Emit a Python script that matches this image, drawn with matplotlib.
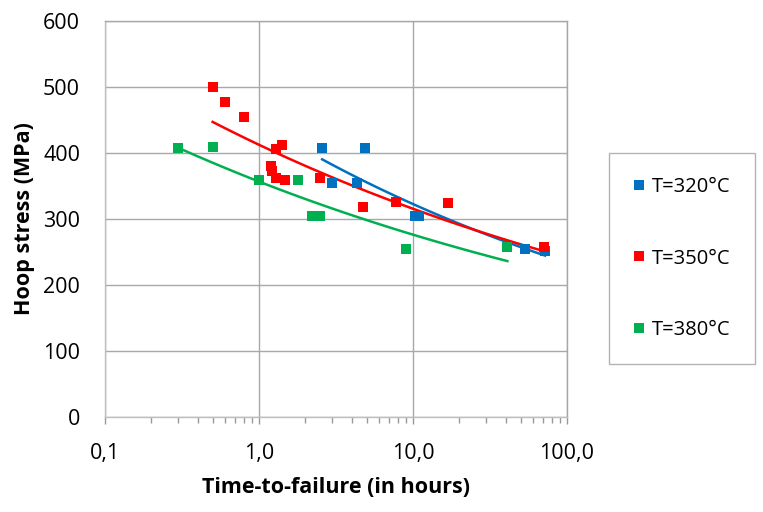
import numpy as np
import matplotlib
matplotlib.use("Agg")
import matplotlib.pyplot as plt
from matplotlib.ticker import FixedLocator, FuncFormatter, LogLocator, NullFormatter

plt.rcParams['font.family'] = ['Open Sans', 'DejaVu Sans']

# ---- data ----
labels = ["T=320°C", "T=350°C", "T=380°C"]
colors = ["#0070C0", "#FF0000", "#00B050"]

t320_x = [2.57, 4.88, 2.98, 4.33, 10.3, 11.0, 53, 72]
t320_y = [407, 407, 355, 355, 304, 304, 255, 251]

t350_x = [0.5, 0.6, 0.8, 1.41, 1.29, 1.2, 1.22, 1.29, 1.47, 2.5, 4.7, 7.8, 17, 71]
t350_y = [500, 477, 455, 412, 406, 381, 372, 362, 359, 362, 318, 326, 324, 257]

t380_x = [0.3, 0.5, 1.0, 1.79, 2.2, 2.5, 9.0, 41]
t380_y = [407, 409, 359, 359, 305, 305, 254, 257]

series = [(t320_x, t320_y), (t350_x, t350_y), (t380_x, t380_y)]

x_ticks = [0.1, 1.0, 10.0, 100.0]
x_tick_labels = ["0,1", "1,0", "10,0", "100,0"]
y_ticks = [0, 100, 200, 300, 400, 500, 600]

# ---- figure ----
fig = plt.figure(figsize=(7.63, 5.12), dpi=100)
ax = fig.add_axes([105/763, 1-417/512, (567-105)/763, (417-21)/512])

handles = []
for (xs, ys), c, lab in zip(series, colors, labels):
    xs = np.array(xs, float); ys = np.array(ys, float)
    h, = ax.plot(xs, ys, linestyle='none', marker='s', markersize=7.2,
                 color=c, markeredgewidth=0, label=lab, zorder=3)
    handles.append(h)
    # power-law trendline (Excel style), fitted from the data
    b, a = np.polyfit(np.log(xs), np.log(ys), 1)
    xx = np.geomspace(xs.min(), xs.max(), 100)
    ax.plot(xx, np.exp(a) * xx ** b, color=c, lw=1.8, zorder=2)

ax.set_xscale('log')
ax.set_xlim(0.1, 100)
ax.set_ylim(0, 600)
ax.xaxis.set_major_locator(FixedLocator(x_ticks))
ax.xaxis.set_major_formatter(FuncFormatter(lambda v, p: dict(zip(x_ticks, x_tick_labels)).get(v, "")))
ax.xaxis.set_minor_locator(LogLocator(base=10, subs=np.arange(2, 10)))
ax.xaxis.set_minor_formatter(NullFormatter())
ax.set_yticks(y_ticks)

gridc = '#a8a8a8'
ax.grid(True, which='major', color=gridc, lw=1.0)
ax.set_axisbelow(True)
for s in ax.spines.values():
    s.set_color('#bfbfbf'); s.set_linewidth(1.0)
ax.spines['top'].set_color(gridc)
ax.spines['right'].set_color(gridc)

ax.tick_params(axis='x', which='both', direction='out', color='#999999',
               labelsize=15.5, pad=14, colors='#999999', labelcolor='black')
ax.tick_params(axis='x', which='major', length=5, width=1)
ax.tick_params(axis='x', which='minor', length=4, width=1)
ax.tick_params(axis='y', length=0, labelsize=15.5, pad=18, labelcolor='black')

ax.set_xlabel("Time-to-failure (in hours)", fontsize=15.5, fontweight='bold', labelpad=9)
ax.set_ylabel("Hoop stress (MPa)", fontsize=15.5, fontweight='bold', labelpad=6)

leg = fig.legend(handles=handles, labels=labels, loc='upper left',
                 bbox_to_anchor=(609/763, 1-153/512), frameon=True, fancybox=False,
                 fontsize=14.5, handlelength=0.6, handletextpad=0.35,
                 labelspacing=2.55, borderpad=1.2, borderaxespad=0, markerscale=1.0)
leg.get_frame().set_edgecolor('#a0a0a0')
leg.get_frame().set_linewidth(1.0)

fig.savefig("out.png", dpi=100)
